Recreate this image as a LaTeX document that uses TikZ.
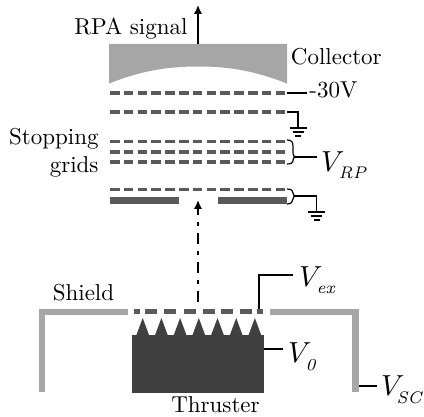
\documentclass[tikz,border=0pt]{standalone}
\usetikzlibrary{arrows.meta}
\tikzset{
  lab/.style={inner sep=0pt,scale=2.3,text=black},
  vlab/.style={inner sep=0pt,anchor=base west,text=black},
  wire/.style={draw=black,line width=1.2pt},
  griddash/.style={draw=gridgray,line width=3.6pt,dash pattern=on 9.6pt off 4.2pt},
  plate/.style={fill=gridgray,draw=none},
  shield/.style={fill=lightgray2,draw=none},
  gnd/.style={draw=black,line width=1.2pt},
}
\definecolor{gridgray}{HTML}{5A5A5A}
\definecolor{lightgray2}{HTML}{A6A6A6}
\definecolor{darkblock}{HTML}{404040}
\newcommand{\groundat}[2]{%
  \draw[gnd] (#1-8.5,#2) -- (#1+8.5,#2);
  \draw[gnd] (#1-5.5,#2+4) -- (#1+5.5,#2+4);
  \draw[gnd] (#1-3,#2+8) -- (#1+3,#2+8);
}
\newcommand{\bigv}[2][-6pt]{\scalebox{2.9}{$V$}\kern#1\raisebox{-7pt}{\scalebox{2.4}{$\scriptstyle\mathit{#2}$}}}
\begin{document}
\begin{tikzpicture}[x=1pt,y=-1pt]
\useasboundingbox (0,0) rectangle (424,417);
% collector
\fill[lightgray2] (109,44) -- (287,44) -- (287,83.5) .. controls (255,71) and (230,66.5) .. (198,66.5) .. controls (166,66.5) and (141,71) .. (109,83.5) -- cycle;
\coordinate (collTop) at (198,44);
\coordinate (sigEnd) at (198,5);
\draw[-{Latex[length=9pt,width=8.5pt]},line width=2pt,black] (collTop) -- (sigEnd);
\node[lab,anchor=base east] (rpa) at (188,35) {RPA signal};
\node[lab,anchor=base west] (coll) at (290.5,65) {Collector};
% grids
\foreach \yy in {93,112,141.7,152,162,189.7}
  \draw[griddash] (110,\yy) -- (287.5,\yy);
\fill[plate] (110,197.5) rectangle (179,204.5);
\fill[plate] (218,197.5) rectangle (287,204.5);
% -30V
\coordinate (a30) at (287,93);
\coordinate (b30) at (307,93);
\node[lab,anchor=base west] (m30) at (309,97.5) {-30V};
\draw[wire] (a30) -- (b30);
% ground 1
\coordinate (g1a) at (287,112);
\coordinate (g1b) at (298,128);
\draw[wire] (g1a) -| (g1b);
\groundat{298}{128}
% stopping label
\node[lab,anchor=base east] (stop) at (99,145) {Stopping};
\node[lab,anchor=base east] (grids) at (99,173) {grids};
% braces
\draw[wire] (287,140) .. controls (292,140) and (293,142) .. (293,147) -- (293,152) .. controls (293,156) and (294,157) .. (297,157) .. controls (294,157) and (293,158) .. (293,160) -- (293,161) .. controls (293,163) and (291,164) .. (287,164);
\node[vlab] (vrp) at (321,172) {\bigv{RP}};
\coordinate (b1m) at (296,157);
\coordinate (b1e) at (317,157);
\draw[wire] (b1m) -- (b1e);
\draw[wire] (287,189) .. controls (292,189) and (293,191) .. (293,193) .. controls (293,195) and (294,196) .. (297,196) .. controls (294,196) and (293,197) .. (293,199) .. controls (293,202) and (291,204) .. (287,204);
\coordinate (g2a) at (296,196);
\coordinate (g2b) at (316.5,212);
\draw[wire] (g2a) -| (g2b);
\groundat{316.5}{212}
% beam
\coordinate (beamS) at (198,302);
\coordinate (beamE) at (198,200);
\draw[-{Latex[length=9pt,width=8.5pt]},line width=2pt,black,dash pattern=on 10.5pt off 7.5pt on 3.5pt off 7.5pt] (beamS) -- (beamE);
% thruster
\fill[darkblock] (132,335) rectangle (264,393);
\foreach \xx in {142.7,161.4,180.1,198.8,217.5,236.2,254.9}
  \fill[darkblock] (\xx-6.5,335.5) -- (\xx,318) -- (\xx+6.5,335.5) -- cycle;
\node[lab,anchor=base] (thr) at (215.5,413) {Thruster};
% extractor
\foreach \xa/\xb in {134/140,145/157,164/176,183.5/196,202.5/214.5,221/233,240/252,257/263}
  \fill[gridgray] (\xa,309.5) rectangle (\xb,314.5);
% shield
\fill[shield] (39,309) rectangle (128,315);
\fill[shield] (39,309) rectangle (45,392);
\fill[shield] (270,309) rectangle (359,315);
\fill[shield] (352,309) rectangle (359,392);
\node[lab,anchor=base] (sh) at (83.5,300.5) {Shield};
% V labels
\node[vlab] (vex) at (299,287) {\bigv{ex}};
\coordinate (exa) at (259,309);
\coordinate (exb) at (293,275);
\draw[wire] (exa) |- (exb);
\node[vlab] (v0) at (288,363) {\bigv{0}};
\coordinate (v0a) at (264,349);
\coordinate (v0b) at (283,349);
\draw[wire] (v0a) -- (v0b);
\node[vlab] (vsc) at (381,396) {\bigv[-8pt]{SC}};
\coordinate (sca) at (359,386);
\coordinate (scb) at (377,386);
\draw[wire] (sca) -- (scb);
\end{tikzpicture}
\end{document}
